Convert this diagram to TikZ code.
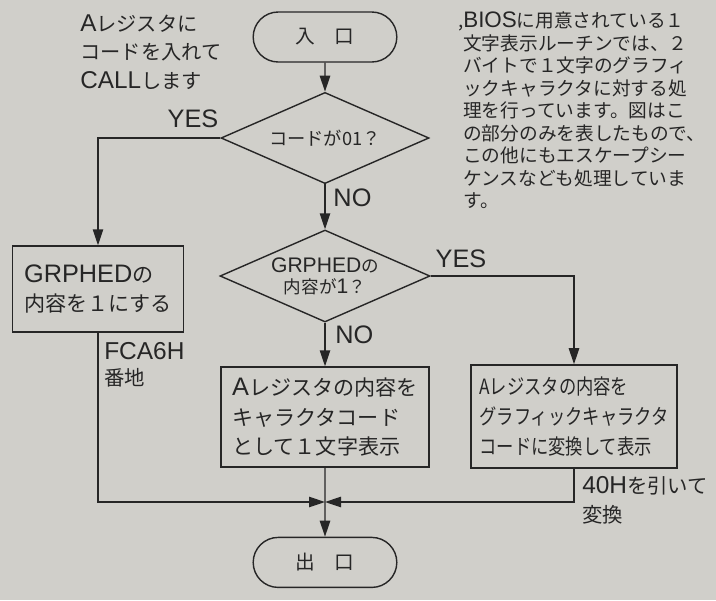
\documentclass[tikz,border=0pt]{standalone}
\usepackage{fontspec}
\setmainfont{Noto Sans CJK JP}
\newfontfamily\lat[Scale=1.2]{Liberation Sans}
\newfontfamily\narrowjp[FakeStretch=0.82]{Noto Sans CJK JP}
\usetikzlibrary{shapes.geometric,shapes.misc,arrows.meta}
\definecolor{Cpaper}{RGB}{208,207,202}
\definecolor{Cink}{RGB}{38,38,38}

\begin{document}
\begin{tikzpicture}[
      term/.style={draw=Cink, line width=1pt, rounded rectangle,
                   minimum width=3.825cm, minimum height=1.25cm,
                   font=\fontsize{14}{18}\selectfont},
      dec/.style={draw=Cink, line width=1pt, diamond, aspect=2.3,
                  inner sep=0pt, minimum width=5.2cm, minimum height=2.28cm,
                  align=center},
      proc/.style={draw=Cink, line width=1pt, align=left,
                   minimum width=5.2cm, minimum height=2.5cm,
                   font=\fontsize{15}{21.3}\selectfont},
      lbl/.style={font=\fontsize{15}{20}\selectfont, inner sep=0pt},
      flow/.style={draw=Cink, line width=1pt,
                   -{Triangle[length=4mm,width=2.6mm]}},
      text=Cink]
    \fill[Cpaper] (0,0) rectangle (17.9,-15);
    \useasboundingbox (0,0) rectangle (17.9,-15);
    % Fluxo
    \node[term] (IN) at (8.125,-0.925) {入　口};
    \node[dec, font=\fontsize{13}{16}\selectfont] (Q1) at (8.125,-3.45) {コードが01？};
    \node[dec, minimum width=5.25cm, minimum height=2.3cm,
          font=\fontsize{12.5}{15}\selectfont] (Q2) at (8.125,-6.9)
      {{\lat GRPHED}の\\内容が{\lat 1}？};
    \node[proc, minimum width=4.275cm, minimum height=2.15cm] (B1) at (2.45,-7.225)
      {{\lat GRPHED}の\\内容を１にする};
    \node[proc] (B2) at (8.125,-10.425)
      {{\lat A}レジスタの内容を\\キャラクタコード\\として１文字表示};
    \node[proc, minimum width=5.15cm, minimum height=2.575cm,
          font=\narrowjp\fontsize{15}{21.3}\selectfont] (B3) at (14.35,-10.41)
      {Aレジスタの内容を\\グラフィックキャラクタ\\コードに変換して表示};
    \node[term] (OUT) at (8.125,-14.06) {出　口};
    \coordinate (M) at (8.125,-12.55);
    % Setas
    \draw[flow] (IN) -- (Q1);
    \draw[flow] (Q1.west) -| (B1.north);
    \draw[flow] (Q1) -- (Q2);
    \draw[flow] (Q2.east) -| (B3.north);
    \draw[flow] (Q2) -- (B2);
    \draw[flow] (B1.south) |- (M);
    \draw[flow] (B3.south) |- (M);
    \draw[flow] (B2) -- (OUT);
    % Rotulos
    \node[lbl] (yes1) at (4.825,-2.975) {\lat YES};
    \node[lbl, anchor=west] (no1) at (8.33,-4.95) {\lat NO};
    \node[lbl] (yes2) at (11.525,-6.475) {\lat YES};
    \node[lbl, anchor=west] (no2) at (8.375,-8.375) {\lat NO};
    \node[lbl, anchor=north west, align=left, font=\fontsize{14.5}{18.5}\selectfont]
      (addr) at (2.6,-8.55) {{\lat FCA6H}\\番地};
    \node[lbl, anchor=north west, align=left, font=\fontsize{14.5}{21}\selectfont]
      (sub) at (14.55,-11.9) {{\lat 40H}を引いて\\変換};
    % Notas
    \node[lbl, anchor=north west, align=left, font=\fontsize{14.4}{20.6}\selectfont]
      (call) at (2.0,-0.35) {{\lat A}レジスタに\\コードを入れて\\{\lat CALL}します};
    \node[lbl, anchor=north west, align=left, font=\fontsize{13.3}{16}\selectfont]
      (memo) at (11.575,-0.3)
      {\llap{,}{\lat BIOS}に用意されている１\\文字表示ルーチンでは、２\\バイトで１文字のグラフィ\\ックキャラクタに対する処\\理を行っています。図はこ\\の部分のみを表したもので、\\この他にもエスケープシー\\ケンスなども処理していま\\す。};
  \end{tikzpicture}
\end{document}
